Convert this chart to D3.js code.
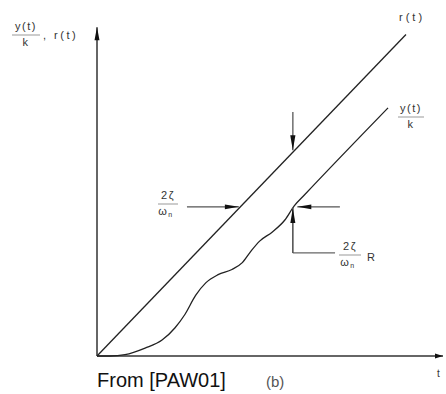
<!DOCTYPE html>
<html><head><meta charset="utf-8">
<script src="https://cdn.jsdelivr.net/npm/d3@7"></script>
<style>
html,body{margin:0;padding:0;background:#fff;}
svg{display:block;font-family:"Liberation Sans",Arial,sans-serif;}
</style></head>
<body>
<script>
// r(t) reference ramp (two end points)
const rT = [0, 89.3];
const rV = [0, 92.9];
// y(t)/k response
const yT = [0, 3.8, 8.1, 13.9, 18.8, 22.5, 25.4, 28.5, 31.5, 35.0, 39.0, 42.0, 44.5, 47.0, 50.6, 54.3, 57.0, 60.0, 84.1];
const yV = [0, 0.0, 0.4, 2.3, 4.6, 8.1, 12.0, 17.5, 21.2, 23.5, 25.0, 27.0, 30.3, 33.2, 35.8, 39.3, 43.4, 46.6, 71.7];

const W = 446, H = 394;
const svg = d3.select("body").append("svg").attr("width", W).attr("height", H);
const x = d3.scaleLinear().domain([0, 100]).range([97, 443]);
const y = d3.scaleLinear().domain([0, 95]).range([356, 27.3]);

const ink = "#222";
function arrowHead(x1, y1, x2, y2, len = 15, hw = 2.6) {
  const dx = x2 - x1, dy = y2 - y1, L = Math.hypot(dx, dy);
  const ux = dx / L, uy = dy / L;
  const bx = x2 - ux * len, by = y2 - uy * len;
  svg.append("path")
    .attr("d", `M${x2},${y2}L${bx - uy * hw},${by + ux * hw}L${bx + uy * hw},${by - ux * hw}Z`)
    .attr("fill", "#111");
}
function seg(x1, y1, x2, y2, c = "#555", w = 1.6) {
  svg.append("line").attr("x1", x1).attr("y1", y1).attr("x2", x2).attr("y2", y2)
    .attr("stroke", c).attr("stroke-width", w);
}

// axes
seg(x(0), y(0), x(0), y(95), "#666", 2);
arrowHead(x(0), y(0), x(0), y(95), 13, 2.5);
seg(x(0), y(0), x(100), y(0), "#666", 2);
arrowHead(x(0), y(0), x(100), y(0), 8, 2.5);

// curves
const line = d3.line().x(d => x(d[0])).y(d => y(d[1]));
svg.append("path").datum(rT.map((t, i) => [t, rV[i]]))
  .attr("d", line).attr("fill", "none").attr("stroke", ink).attr("stroke-width", 1.3);
svg.append("path").datum(yT.map((t, i) => [t, yV[i]]))
  .attr("d", line.curve(d3.curveMonotoneX)).attr("fill", "none")
  .attr("stroke", ink).attr("stroke-width", 1.3);

// annotations
seg(x(56.6), y(70.5), x(56.6), y(59.5), "#777", 1.6);
arrowHead(x(56.6), y(70.5), x(56.6), y(59.5));
seg(x(26.0), y(43.1), x(41.0), y(43.1), "#555", 1.4);
arrowHead(x(26.0), y(43.1), x(41.0), y(43.1), 14, 2.3);
seg(x(70.2), y(43.1), x(57.9), y(43.1), "#555", 1.4);
arrowHead(x(70.2), y(43.1), x(57.9), y(43.1), 14, 2.3);
seg(x(56.6), y(29.8), x(68.8), y(29.8), "#666", 1.4);
seg(x(56.6), y(29.8), x(56.6), y(42.8), "#555", 1.6);
arrowHead(x(56.6), y(29.8), x(56.6), y(42.8), 15, 2.5);

const txt = (tx, ty, s, size = 11, anchor = "start", extra = {}) => {
  const t = svg.append("text").attr("x", tx).attr("y", ty).attr("font-size", size)
    .attr("fill", extra.fill || "#333").attr("text-anchor", anchor)
    .attr("letter-spacing", extra.ls != null ? extra.ls : 1.5).text(s);
  if (extra.style) t.attr("font-style", extra.style);
  return t;
};
function frac(cx, topY, num, den, w, sub) {
  txt(cx, topY, num, 11, "middle");
  seg(cx - w / 2, topY + 5, cx + w / 2, topY + 5, "#bbb", 1.5);
  const d = txt(cx - (sub ? 2 : 0), topY + 16, den, 11, "middle");
  if (sub) d.append("tspan").attr("font-size", 7).attr("dy", 2).text(sub);
}

frac(26, 30, "y(t)", "k", 28);
txt(43, 39, ",  r(t)", 11, "start", { ls: 2.5 });
txt(399, 21, "r(t)", 11, "start", { ls: 3 });
frac(411, 112, "y(t)", "k", 26);
frac(168, 199, "2ζ", "ω", 20, "n");
frac(350, 250, "2ζ", "ω", 22, "n");
txt(367, 261, "R", 11, "start", { ls: 0 });
txt(437, 377, "t", 10, "start", { ls: 0 });
txt(97, 387, "From [PAW01]", 20, "start", { ls: 0, fill: "#111" });
txt(266, 387, "(b)", 15, "start", { ls: 0, fill: "#555" });
</script>
</body></html>
